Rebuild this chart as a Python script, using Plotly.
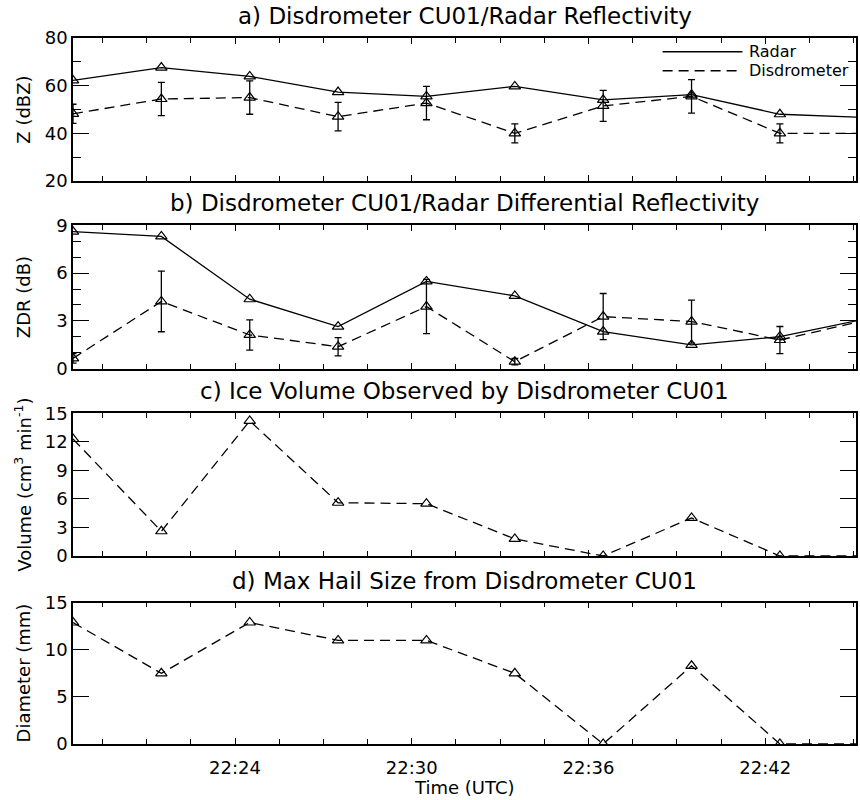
import plotly.graph_objects as go
from plotly.subplots import make_subplots

# ---------------- data ----------------
times = ["2000-01-01 22:18:30", "2000-01-01 22:21:30", "2000-01-01 22:24:30",
         "2000-01-01 22:27:30", "2000-01-01 22:30:30", "2000-01-01 22:33:30",
         "2000-01-01 22:36:30", "2000-01-01 22:39:30", "2000-01-01 22:42:30",
         "2000-01-01 22:45:30"]

radar_z = [62.2, 67.6, 63.9, 57.3, 55.5, 59.7, 54.0, 56.2, 48.0, 46.6]
disdro_z = [48.2, 54.4, 55.0, 47.0, 52.7, 40.0, 51.5, 55.5, 40.0, 40.0]
disdro_z_err = [4.0, 7.0, 7.0, 6.0, 7.0, 4.0, 6.5, 7.0, 4.0, 0.0]

radar_zdr = [8.6, 8.3, 4.36, 2.64, 5.48, 4.57, 2.33, 1.49, 2.01, 3.16]
disdro_zdr = [0.65, 4.22, 2.12, 1.38, 3.9, 0.44, 3.27, 2.96, 1.8, 3.08]
disdro_zdr_err = [0.3, 1.9, 0.95, 0.57, 1.7, 0.2, 1.45, 1.35, 0.85, 0.0]

ice_volume = [12.3, 2.6, 14.2, 5.6, 5.5, 1.8, 0.0, 4.0, 0.0, 0.0]
max_hail = [12.9, 7.5, 12.9, 11.0, 11.0, 7.5, 0.0, 8.3, 0.0, 0.0]

x_range = ["2000-01-01 22:18:30", "2000-01-01 22:45:05"]

titles = ["a) Disdrometer CU01/Radar Reflectivity",
          "b) Disdrometer CU01/Radar Differential Reflectivity",
          "c) Ice Volume Observed by Disdrometer CU01",
          "d) Max Hail Size from Disdrometer CU01"]
ytitles = ["Z (dBZ)", "ZDR (dB)", "Volume (cm<sup>3</sup> min<sup>-1</sup>)", "Diameter (mm)"]

# ---------------- style ----------------
FONT = "DejaVu Sans"
BLACK = "#000000"
DASH = "10px,6px"
LW = 1.3
marker = dict(symbol="triangle-up-open", size=10, color=BLACK, line=dict(width=1.2, color=BLACK))

fig = make_subplots(rows=4, cols=1, shared_xaxes=False)

def add_line(row, y, dash, err=None):
    tr = go.Scatter(x=times, y=y, mode="lines+markers",
                    line=dict(color=BLACK, width=LW, dash=dash),
                    marker=marker, showlegend=False)
    if err is not None:
        tr.error_y = dict(type="data", array=err, visible=True, color=BLACK,
                          thickness=1.3, width=3.5)
    fig.add_trace(tr, row=row, col=1)

add_line(1, radar_z, "solid")
add_line(1, disdro_z, DASH, disdro_z_err)
add_line(2, radar_zdr, "solid")
add_line(2, disdro_zdr, DASH, disdro_zdr_err)
add_line(3, ice_volume, DASH)
add_line(4, max_hail, DASH)

H = 706.0
domains = [
    [(744 - 181) / H, 1.0],
    [(744 - 368.7) / H, (744 - 225.3) / H],
    [(744 - 556) / H, (744 - 413.3) / H],
    [0.0, (744 - 602.7) / H],
]
yranges = [[20, 80], [0, 9], [0, 15], [0, 15]]
ydticks = [20, 3, 3, 5]
yminor = [10, 1, None, None]

for i in range(4):
    ax = "" if i == 0 else str(i + 1)
    xa = dict(
        range=x_range, type="date", domain=[0, 1],
        showline=True, linecolor=BLACK, linewidth=1.5, mirror="ticks",
        ticks="inside", ticklen=6, tickwidth=1.2, tickcolor=BLACK,
        tick0="2000-01-01 22:00:00", dtick=360000, tickformat="%H:%M",
        minor=dict(ticks="inside", ticklen=5, dtick=90000, tickcolor=BLACK, tickwidth=1),
        showgrid=False, zeroline=False,
        showticklabels=(i == 3),
        ticklabelstandoff=7,
        tickfont=dict(family=FONT, size=18, color=BLACK),
    )
    ya = dict(
        range=yranges[i], domain=domains[i],
        showline=True, linecolor=BLACK, linewidth=1.5, mirror="ticks",
        ticks="inside", ticklen=16, tickwidth=1.2, tickcolor=BLACK,
        tick0=0, dtick=ydticks[i],
        showgrid=False, zeroline=False,
        tickfont=dict(family=FONT, size=18, color=BLACK),
    )
    if yminor[i]:
        ya["minor"] = dict(ticks="inside", ticklen=8, dtick=yminor[i], tickcolor=BLACK, tickwidth=1)
    fig.layout["xaxis" + ax].update(xa)
    fig.layout["yaxis" + ax].update(ya)

    # panel title
    fig.add_annotation(text=titles[i], xref="x" + ax + " domain", yref="y" + ax + " domain",
                       x=0.5, y=1, xanchor="center", yanchor="middle", yshift=22,
                       showarrow=False, font=dict(family=FONT, size=23, color=BLACK))
    # y axis title
    fig.add_annotation(text=ytitles[i], xref="paper", yref="y" + ax + " domain",
                       x=-50 / 785, y=0.5, xanchor="center", yanchor="middle",
                       textangle=-90, showarrow=False,
                       font=dict(family=FONT, size=18, color=BLACK))

# x axis title
fig.add_annotation(text="Time (UTC)", xref="paper", yref="paper", x=0.5, y=0,
                   xanchor="center", yanchor="middle", yshift=-43, showarrow=False,
                   font=dict(family=FONT, size=18, color=BLACK))

# legend in panel a (drawn manually)
fig.add_shape(type="line", xref="x domain", yref="y domain", x0=0.753, x1=0.855, y0=0.904, y1=0.904,
              line=dict(color=BLACK, width=LW))
fig.add_shape(type="line", xref="x domain", yref="y domain", x0=0.753, x1=0.855, y0=0.771, y1=0.771,
              line=dict(color=BLACK, width=LW, dash=DASH))
fig.add_annotation(text="Radar", xref="x domain", yref="y domain", x=0.861, y=0.904,
                   xanchor="left", yanchor="middle", showarrow=False,
                   font=dict(family=FONT, size=16, color=BLACK))
fig.add_annotation(text="Disdrometer", xref="x domain", yref="y domain", x=0.861, y=0.771,
                   xanchor="left", yanchor="middle", showarrow=False,
                   font=dict(family=FONT, size=16, color=BLACK))

fig.update_layout(
    width=860, height=800,
    margin=dict(l=73, r=2, t=38, b=56),
    paper_bgcolor="white", plot_bgcolor="white",
    showlegend=False,
    font=dict(family=FONT, color=BLACK),
)

fig.write_html("out.html")
